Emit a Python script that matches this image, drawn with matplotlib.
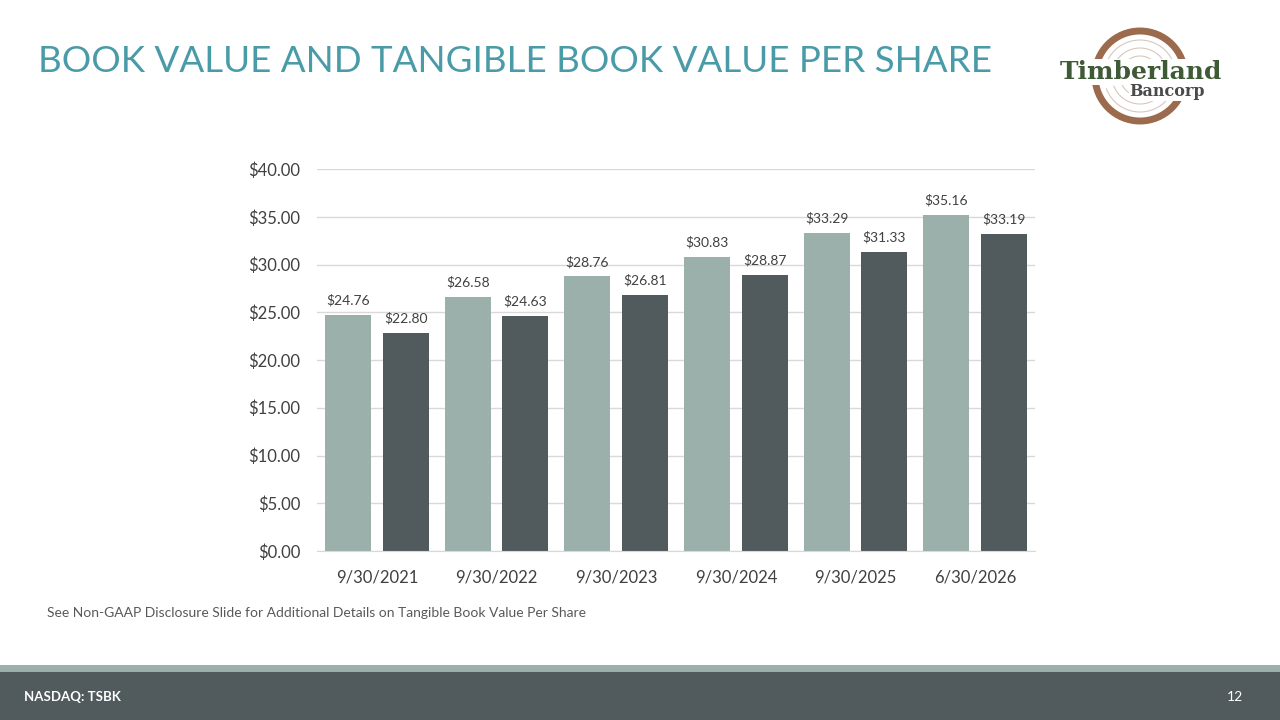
import numpy as np
import matplotlib

matplotlib.use("Agg")
import matplotlib.pyplot as plt
from matplotlib.patches import Circle, Arc, Rectangle

CATEGORIES = ["9/30/2021", "9/30/2022", "9/30/2023", "9/30/2024", "9/30/2025", "6/30/2026"]
BOOK_VALUE = [24.76, 26.58, 28.76, 30.83, 33.29, 35.16]
TANGIBLE_BOOK_VALUE = [22.80, 24.63, 26.81, 28.87, 31.33, 33.19]
Y_TICKS = [0, 5, 10, 15, 20, 25, 30, 35, 40]

LIGHT = "#9BB0AB"
DARK = "#515A5C"
TITLE_COLOR = "#4A9BA8"

plt.rcParams["font.family"] = ["Lato", "DejaVu Sans"]

fig = plt.figure(figsize=(12.8, 7.2), dpi=100)
fig.patch.set_facecolor("white")

# chart
ax = fig.add_axes([317 / 1280, 1 - 551 / 720, 718 / 1280, 382 / 720])
x = np.arange(len(CATEGORIES))
w = 0.383
off = 0.241
b1 = ax.bar(x - off, BOOK_VALUE, w, color=LIGHT, zorder=2)
b2 = ax.bar(x + off, TANGIBLE_BOOK_VALUE, w, color=DARK, zorder=2)
for bars, vals in ((b1, BOOK_VALUE), (b2, TANGIBLE_BOOK_VALUE)):
    for r, v in zip(bars, vals):
        ax.annotate(f"${v:.2f}", (r.get_x() + r.get_width() / 2, v),
                    xytext=(0, 6), textcoords="offset points",
                    ha="center", va="bottom", fontsize=10, color="#404040")

ax.set_xlim(-0.5, len(CATEGORIES) - 0.5)
ax.set_ylim(0, 40)
ax.set_yticks(Y_TICKS)
ax.set_yticklabels([f"${t:.2f}" for t in Y_TICKS])
ax.set_xticks(x)
ax.set_xticklabels(CATEGORIES)
ax.tick_params(axis="both", length=0, labelsize=12, labelcolor="#404040")
ax.tick_params(axis="y", pad=12)
ax.tick_params(axis="x", pad=13)
ax.grid(axis="y", color="#D9D9D9", linewidth=1, zorder=0)
for s in ["top", "right", "left"]:
    ax.spines[s].set_visible(False)
ax.spines["bottom"].set_color("#D9D9D9")

# title and note
fig.text(38 / 1280, 1 - 61 / 720, "BOOK VALUE AND TANGIBLE BOOK VALUE PER SHARE",
         fontsize=26.5, color=TITLE_COLOR, va="center", ha="left")
fig.text(47 / 1280, 1 - 613 / 720,
         "See Non-GAAP Disclosure Slide for Additional Details on Tangible Book Value Per Share",
         fontsize=10, color="#595959", va="center", ha="left")

# footer
fig.patches.append(Rectangle((0, 0), 1, 48 / 720, transform=fig.transFigure,
                             facecolor=DARK, edgecolor="none"))
fig.patches.append(Rectangle((0, 48 / 720), 1, 7 / 720, transform=fig.transFigure,
                             facecolor=LIGHT, edgecolor="none"))
fig.text(24 / 1280, 1 - 697 / 720, "NASDAQ: TSBK", fontsize=9.5, fontweight="bold",
         color="white", va="center", ha="left")
fig.text(1243 / 1280, 1 - 697 / 720, "12", fontsize=10, color="white",
         va="center", ha="right")

# logo
lax = fig.add_axes([1050 / 1280, 1 - 128 / 720, 180 / 1280, 104 / 720])
lax.set_xlim(0, 180)
lax.set_ylim(0, 104)
lax.set_aspect("equal")
lax.axis("off")
cx, cy = 90, 52
lax.add_patch(Circle((cx, cy), 45, fill=False, edgecolor="#9C6B4E", linewidth=5))
for r in (12, 20, 28, 36):
    lax.add_patch(Arc((cx, cy), 2 * r, 2 * r, theta1=20, theta2=160,
                      edgecolor="#D9C7BB", linewidth=0.8))
    lax.add_patch(Arc((cx, cy), 2 * r, 2 * r, theta1=200, theta2=340,
                      edgecolor="#D9C7BB", linewidth=0.8))
lax.text(cx + 1, cy + 4, "Timberland", fontsize=18, fontweight="bold", family="DejaVu Serif",
         color="#3F5A36", ha="center", va="center",
         bbox=dict(facecolor="white", edgecolor="none", pad=0.5))
lax.text(cx + 27, cy - 16, "Bancorp", fontsize=11.5, fontweight="bold", family="DejaVu Serif",
         color="#4A4A4A", ha="center", va="center",
         bbox=dict(facecolor="white", edgecolor="none", pad=0.5))

fig.savefig("out.png", dpi=100)
